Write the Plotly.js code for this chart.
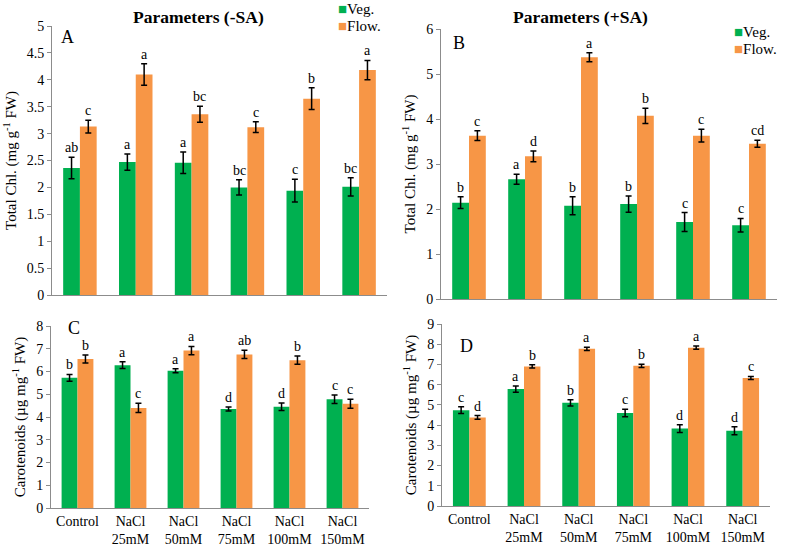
<!DOCTYPE html>
<html>
<head>
<meta charset="utf-8">
<script src="https://cdn.plot.ly/plotly-3.0.1.min.js"></script>
<style>html,body{margin:0;padding:0;background:#fff}#chart{width:787px;height:548px}</style>
</head>
<body>
<div id="chart"></div>
<script>
// ---- data ----
const categories = ['Control', 'NaCl<br>25mM', 'NaCl<br>50mM', 'NaCl<br>75mM', 'NaCl<br>100mM', 'NaCl<br>150mM'];
const seriesNames = ['Veg.', 'Flow.'];

// Panel A: Total Chl. (-SA)
const chlNoSA_veg = [2.36, 2.47, 2.46, 2.00, 1.94, 2.01];
const chlNoSA_veg_err = [0.20, 0.15, 0.20, 0.14, 0.21, 0.17];
const chlNoSA_flow = [3.13, 4.10, 3.36, 3.12, 3.65, 4.18];
const chlNoSA_flow_err = [0.12, 0.20, 0.15, 0.10, 0.20, 0.18];
const chlNoSA_veg_let = ['ab', 'a', 'a', 'bc', 'c', 'bc'];
const chlNoSA_flow_let = ['c', 'a', 'bc', 'c', 'b', 'a'];

// Panel B: Total Chl. (+SA)
const chlSA_veg = [2.14, 2.66, 2.07, 2.11, 1.71, 1.64];
const chlSA_veg_err = [0.13, 0.11, 0.20, 0.18, 0.21, 0.15];
const chlSA_flow = [3.63, 3.17, 5.37, 4.07, 3.63, 3.45];
const chlSA_flow_err = [0.11, 0.12, 0.10, 0.17, 0.14, 0.08];
const chlSA_veg_let = ['b', 'a', 'b', 'b', 'c', 'c'];
const chlSA_flow_let = ['c', 'd', 'a', 'b', 'c', 'cd'];

// Panel C: Carotenoids (-SA)
const carNoSA_veg = [5.72, 6.28, 6.03, 4.35, 4.45, 4.78];
const carNoSA_veg_err = [0.15, 0.15, 0.09, 0.09, 0.16, 0.19];
const carNoSA_flow = [6.55, 4.40, 6.92, 6.75, 6.50, 4.58];
const carNoSA_flow_err = [0.18, 0.20, 0.18, 0.18, 0.18, 0.20];
const carNoSA_veg_let = ['b', 'a', 'a', 'd', 'd', 'c'];
const carNoSA_flow_let = ['b', 'c', 'a', 'ab', 'b', 'c'];

// Panel D: Carotenoids (+SA)
const carSA_veg = [4.74, 5.78, 5.10, 4.60, 3.83, 3.72];
const carSA_veg_err = [0.17, 0.16, 0.15, 0.19, 0.19, 0.20];
const carSA_flow = [4.38, 6.90, 7.77, 6.93, 7.83, 6.33];
const carSA_flow_err = [0.09, 0.08, 0.08, 0.08, 0.08, 0.08];
const carSA_veg_let = ['c', 'a', 'b', 'c', 'd', 'd'];
const carSA_flow_let = ['d', 'b', 'a', 'b', 'a', 'c'];

// ---- styling / layout ----
const W = 787, H = 548;
const FONT = 'Liberation Serif, Times New Roman, serif';
const GREEN = '#00B050', ORANGE = '#F79646', AXIS = '#8c8c8c';
const COLORS = [GREEN, ORANGE];
const BARGAP = 0.4;

const panels = [
  {xa: 'x',  ya: 'y',  veg: chlNoSA_veg, vegErr: chlNoSA_veg_err, flow: chlNoSA_flow, flowErr: chlNoSA_flow_err,
   vegLet: chlNoSA_veg_let, flowLet: chlNoSA_flow_let, legendPos: {x: 336, y: 9},
   xdom: [52, 387], ydom: [26, 295], range: [0, 5], dtick: 0.5, ytitle: 'Total Chl. (mg g<sup>-1</sup> FW)', ticks: false},
  {xa: 'x2', ya: 'y2', veg: chlSA_veg, vegErr: chlSA_veg_err, flow: chlSA_flow, flowErr: chlSA_flow_err,
   vegLet: chlSA_veg_let, flowLet: chlSA_flow_let, legendPos: {x: 732, y: 32},
   xdom: [441, 777], ydom: [29, 299], range: [0, 6], dtick: 1, ytitle: 'Total Chl. (mg g<sup>-1</sup> FW)', ticks: false},
  {xa: 'x3', ya: 'y3', veg: carNoSA_veg, vegErr: carNoSA_veg_err, flow: carNoSA_flow, flowErr: carNoSA_flow_err,
   vegLet: carNoSA_veg_let, flowLet: carNoSA_flow_let, legendPos: null,
   xdom: [51, 369], ydom: [326, 508], range: [0, 8], dtick: 1, ytitle: 'Carotenoids (µg mg<sup>-1</sup> FW)', ticks: true},
  {xa: 'x4', ya: 'y4', veg: carSA_veg, vegErr: carSA_veg_err, flow: carSA_flow, flowErr: carSA_flow_err,
   vegLet: carSA_veg_let, flowLet: carSA_flow_let, legendPos: null,
   xdom: [442, 770], ydom: [324, 506], range: [0, 9], dtick: 1, ytitle: 'Carotenoids (µg mg<sup>-1</sup> FW)', ticks: true}
];

const traces = [];
const annotations = [];
const layout = {
  width: W, height: H,
  margin: {l: 0, r: 0, t: 0, b: 0},
  paper_bgcolor: '#fff', plot_bgcolor: '#fff',
  barmode: 'group', bargap: BARGAP, bargroupgap: 0,
  font: {family: FONT, size: 14, color: '#000'},
  showlegend: false,
  annotations: annotations
};

panels.forEach((p, k) => {
  const sfx = k === 0 ? '' : String(k + 1);
  const errStyle = (arr) => ({type: 'data', array: arr, visible: true, color: '#000', thickness: 1.5, width: 3});
  traces.push({
    type: 'bar', name: seriesNames[0], x: categories, y: p.veg, xaxis: p.xa, yaxis: p.ya,
    marker: {color: GREEN}, error_y: errStyle(p.vegErr), hoverinfo: 'y'
  });
  traces.push({
    type: 'bar', name: seriesNames[1], x: categories, y: p.flow, xaxis: p.xa, yaxis: p.ya,
    marker: {color: ORANGE}, error_y: errStyle(p.flowErr), hoverinfo: 'y'
  });
  layout['xaxis' + sfx] = {
    domain: [p.xdom[0] / W, p.xdom[1] / W], anchor: 'y' + sfx, type: 'category',
    showline: true, linecolor: AXIS, linewidth: 1, ticks: '', showgrid: false, zeroline: false,
    showticklabels: p.ticks, tickfont: {family: FONT, size: 14}, ticklabelstandoff: 0, fixedrange: true
  };
  layout['yaxis' + sfx] = {
    domain: [1 - p.ydom[1] / H, 1 - p.ydom[0] / H], anchor: 'x' + sfx,
    range: p.range, dtick: p.dtick, tick0: 0,
    showline: true, linecolor: AXIS, linewidth: 1, ticks: 'outside', ticklen: 4, tickcolor: AXIS,
    showgrid: false, zeroline: false, tickfont: {family: FONT, size: 14}, fixedrange: true,
    title: {text: p.ytitle, font: {family: FONT, size: 15}, standoff: 6}
  };
  // significance letters above error bars
  const catPx = (p.xdom[1] - p.xdom[0]) / categories.length;
  const off = catPx * (1 - BARGAP) / 4;
  const addLetters = (vals, errs, lets, shift) => {
    vals.forEach((v, i) => {
      annotations.push({
        x: categories[i], y: v + errs[i], xref: p.xa, yref: p.ya,
        xshift: shift, yshift: 0, yanchor: 'bottom', showarrow: false,
        text: lets[i], font: {family: FONT, size: 14, color: '#000'}
      });
    });
  };
  addLetters(p.veg, p.vegErr, p.vegLet, -off);
  addLetters(p.flow, p.flowErr, p.flowLet, off);
  // legend (two entries) drawn as colored-square keys
  if (p.legendPos) {
    seriesNames.forEach((nm, j) => {
      annotations.push({
        text: '<span style="color:' + COLORS[j] + ';font-size:15px">■</span>' + nm,
        x: p.legendPos.x / W, y: 1 - (p.legendPos.y + j * 17) / H, xref: 'paper', yref: 'paper',
        xanchor: 'left', yanchor: 'middle', showarrow: false, align: 'left',
        font: {family: FONT, size: 15, color: '#000'}
      });
    });
  }
});

// panel titles and letters
const titles = [
  {text: '<b>Parameters (-SA)</b>', x: 199, y: 17},
  {text: '<b>Parameters (+SA)</b>', x: 580, y: 17}
];
titles.forEach(t => annotations.push({
  text: t.text, x: t.x / W, y: 1 - t.y / H, xref: 'paper', yref: 'paper',
  xanchor: 'center', yanchor: 'middle', showarrow: false, font: {family: FONT, size: 17.5, color: '#000'}
}));
const letters = [
  {text: 'A', x: 67, y: 37}, {text: 'B', x: 459, y: 43},
  {text: 'C', x: 74, y: 328}, {text: 'D', x: 466, y: 346}
];
letters.forEach(t => annotations.push({
  text: t.text, x: t.x / W, y: 1 - t.y / H, xref: 'paper', yref: 'paper',
  xanchor: 'center', yanchor: 'middle', showarrow: false, font: {family: FONT, size: 18, color: '#000'}
}));

Plotly.newPlot('chart', traces, layout, {displayModeBar: false, staticPlot: true});
</script>
</body>
</html>
